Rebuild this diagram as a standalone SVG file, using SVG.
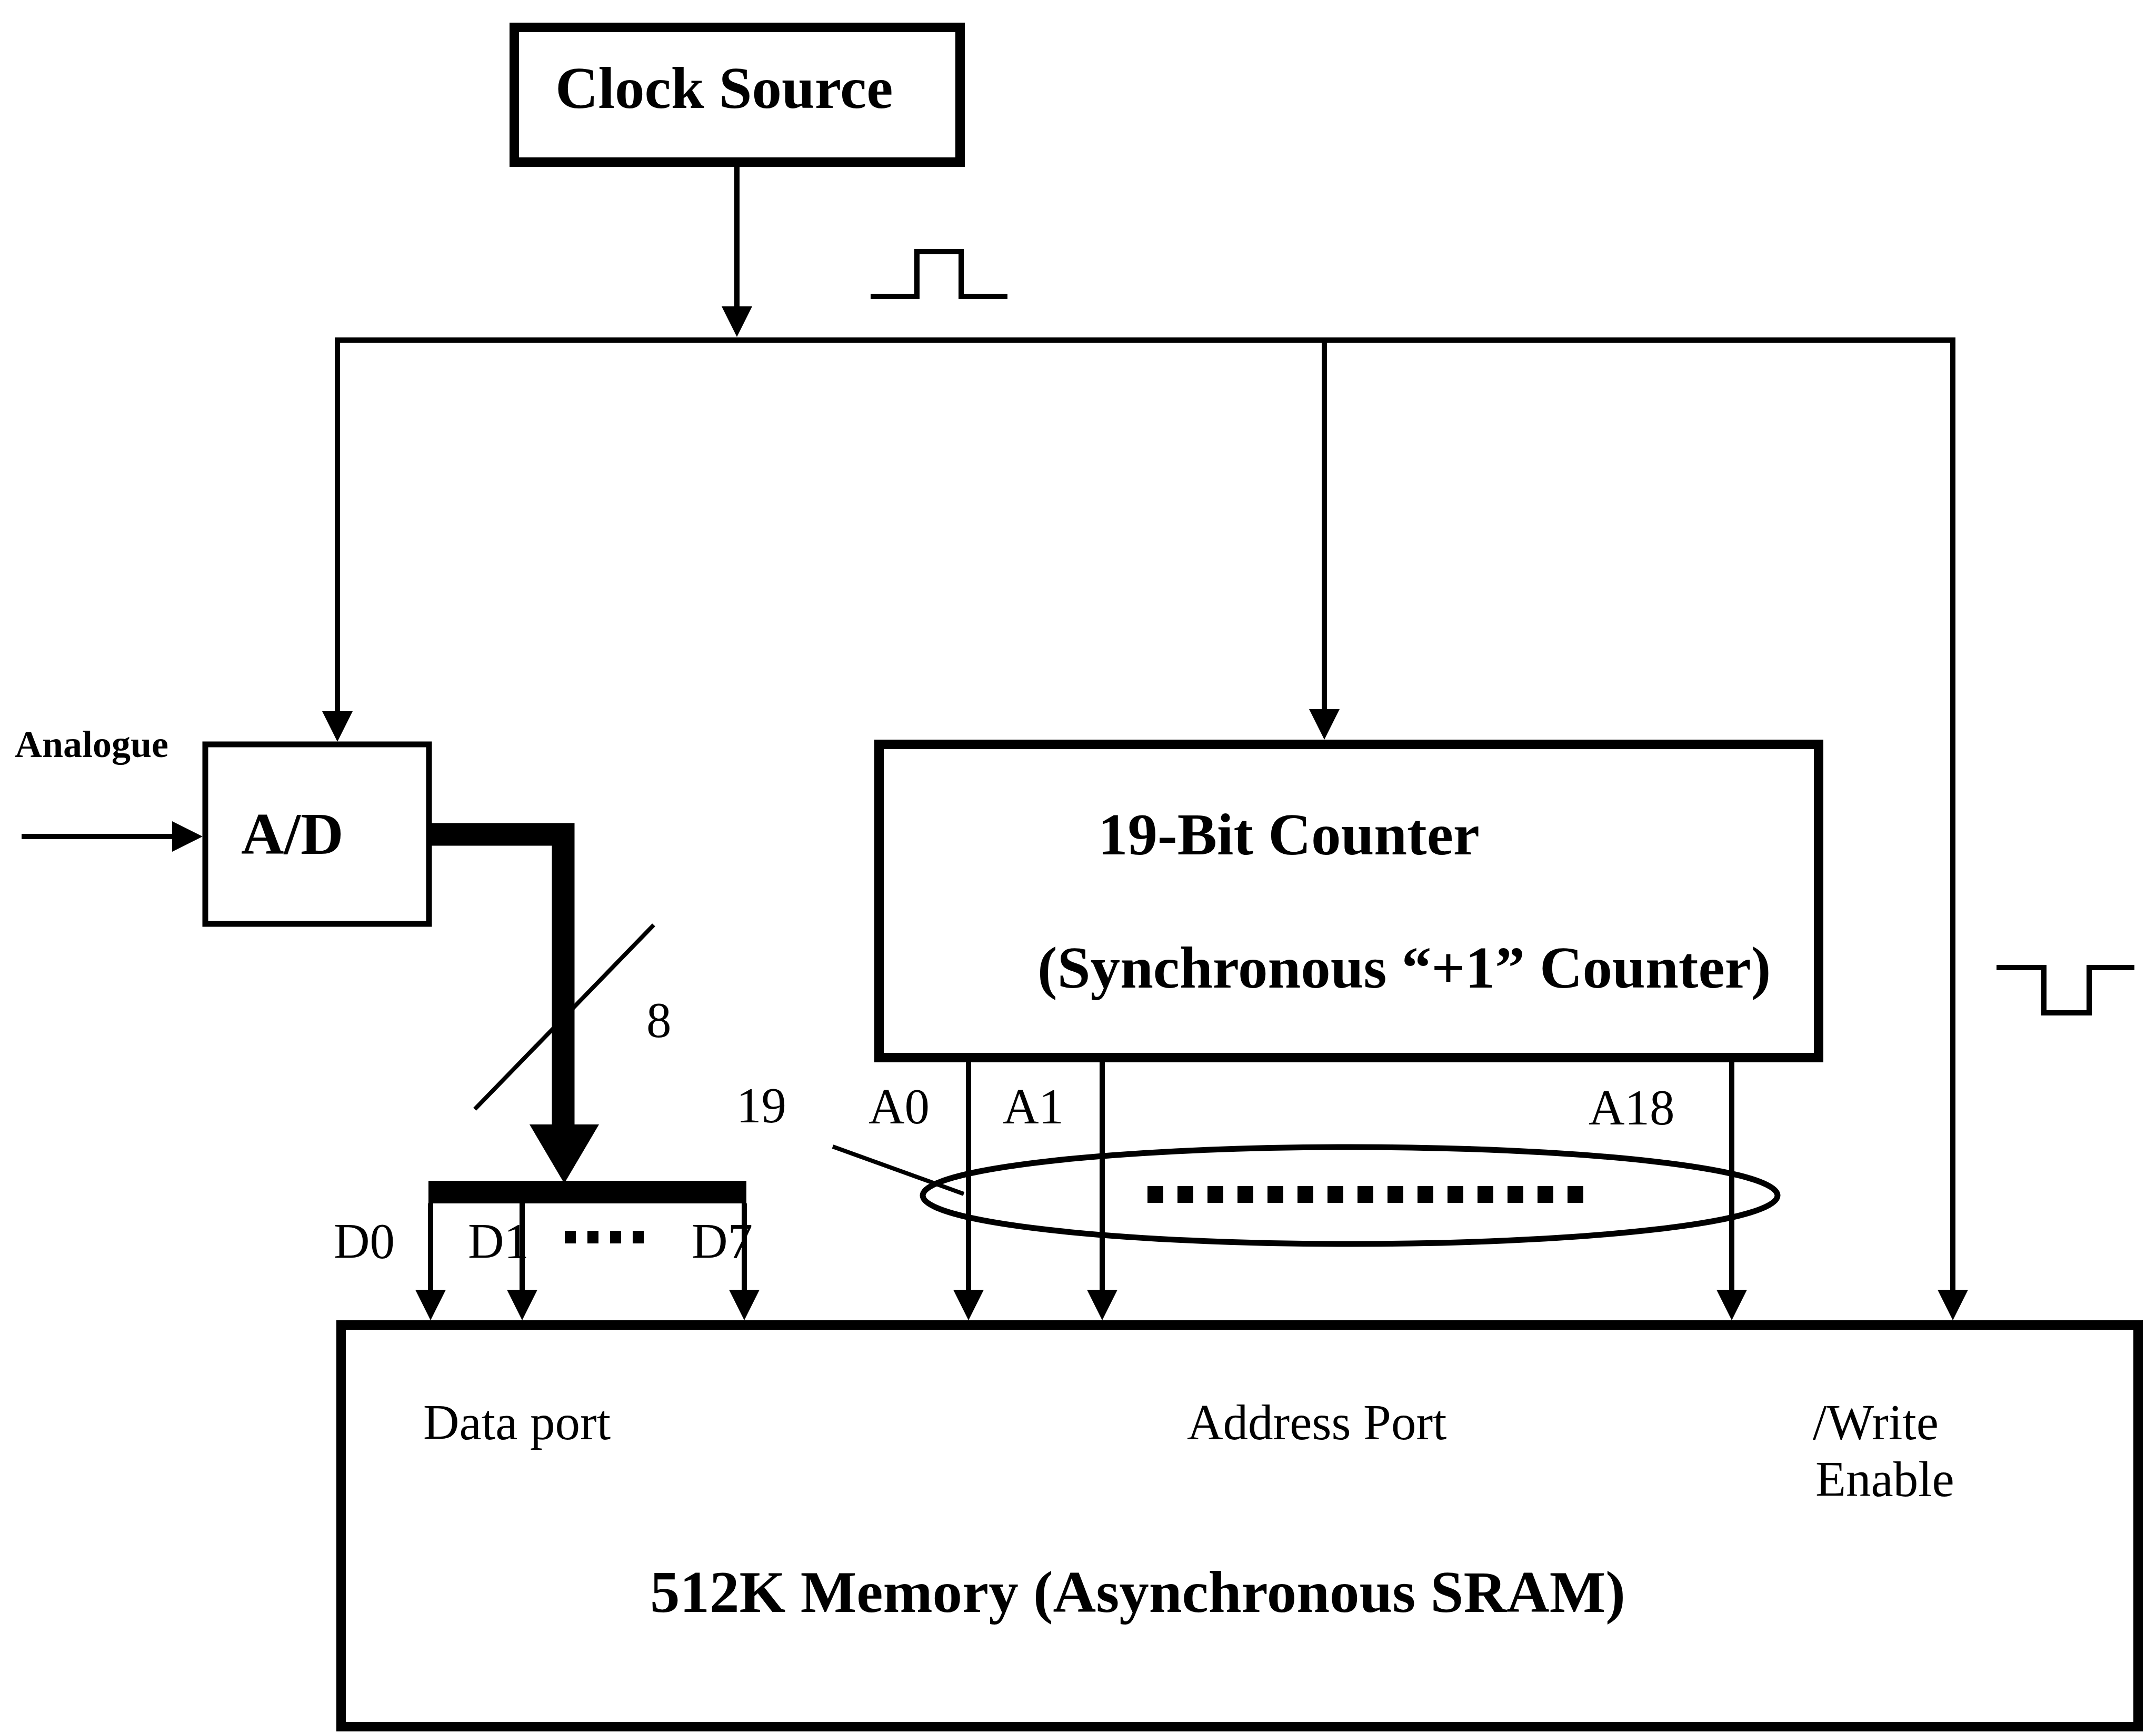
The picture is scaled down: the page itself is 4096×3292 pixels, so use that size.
<svg xmlns="http://www.w3.org/2000/svg" width="4096" height="3292" viewBox="0 0 4096 3292">
<defs>
<style>
.box{fill:#fff;stroke:#000;stroke-width:18}
.box-thin{fill:#fff;stroke:#000;stroke-width:11}
.wire{fill:none;stroke:#000;stroke-width:10}
.thin{fill:none;stroke:#000;stroke-width:8}
.bold{font-family:"Liberation Serif","Times New Roman",serif;font-weight:bold;font-size:113px;fill:#000}
.lbl{font-family:"Liberation Serif","Times New Roman",serif;font-size:95px;fill:#000}
.small{font-family:"Liberation Serif","Times New Roman",serif;font-weight:bold;font-size:72px;fill:#000}
</style>
<marker id="arr" markerUnits="userSpaceOnUse" markerWidth="58" markerHeight="60" viewBox="0 0 58 60" refX="48" refY="30" orient="auto">
<path d="M0,1 L58,30 L0,59 z" fill="#000"/>
</marker>
</defs>
<rect x="0" y="0" width="4096" height="3292" fill="#fff"/>

<g id="clock-source">
<rect class="box" x="977" y="52" width="847" height="256"/>
<text class="bold" x="1055" y="205">Clock Source</text>
</g>

<g id="clock-pulse">
<polyline class="wire" stroke-width="12" points="1654,563 1742,563 1742,478 1826,478 1826,563 1914,563"/>
</g>

<g id="ad-converter">
<rect class="box-thin" x="390" y="1414" width="425" height="341"/>
<text class="bold" x="458" y="1622">A/D</text>
<text class="small" x="28" y="1438">Analogue</text>
</g>

<g id="counter">
<rect class="box" x="1670" y="1414" width="1785" height="595"/>
<text class="bold" x="2086" y="1623">19-Bit Counter</text>
<text class="bold" x="1971" y="1876">(Synchronous “+1” Counter)</text>
</g>

<g id="write-pulse">
<polyline class="wire" stroke-width="12" points="3793,1838 3883,1838 3883,1924 3969,1924 3969,1838 4055,1838"/>
</g>

<g id="memory">
<rect class="box" x="648" y="2517" width="3414" height="763"/>
<text class="lbl" x="804" y="2734">Data port</text>
<text class="lbl" x="2255" y="2734">Address Port</text>
<text class="lbl" x="3444" y="2734">/Write</text>
<text class="lbl" x="3449" y="2842">Enable</text>
<text class="bold" x="1235" y="3062">512K Memory (Asynchronous SRAM)</text>
</g>

<g id="connectors">
<line class="wire" x1="1400" y1="317" x2="1400" y2="630" marker-end="url(#arr)"/>
<line class="wire" stroke-width="12" stroke-linecap="square" x1="641" y1="646" x2="3710" y2="646"/>
<line class="wire" x1="641" y1="646" x2="641" y2="1399" marker-end="url(#arr)"/>
<line class="wire" x1="2516" y1="646" x2="2516" y2="1395" marker-end="url(#arr)"/>
<line class="wire" x1="3710" y1="646" x2="3710" y2="2498" marker-end="url(#arr)"/>
<line class="wire" x1="41" y1="1589" x2="375" y2="1589" marker-end="url(#arr)"/>
<polyline fill="none" stroke="#000" stroke-width="43" stroke-linejoin="miter" points="815,1585 1070,1585 1070,2145"/>
<polygon points="1006,2136 1138,2136 1072,2248" fill="#000"/>
<line class="thin" x1="902" y1="2107" x2="1242" y2="1757"/>
<rect x="814" y="2243" width="604" height="43" fill="#000"/>
<line class="wire" x1="818" y1="2286" x2="818" y2="2498" marker-end="url(#arr)"/>
<line class="wire" x1="992" y1="2286" x2="992" y2="2498" marker-end="url(#arr)"/>
<line class="wire" x1="1414" y1="2286" x2="1414" y2="2498" marker-end="url(#arr)"/>
<line class="wire" x1="1840" y1="2018" x2="1840" y2="2498" marker-end="url(#arr)"/>
<line class="wire" x1="2094" y1="2018" x2="2094" y2="2498" marker-end="url(#arr)"/>
<line class="wire" x1="3290" y1="2018" x2="3290" y2="2498" marker-end="url(#arr)"/>
<line class="thin" x1="1582" y1="2178" x2="1831" y2="2268"/>
</g>

<g id="bus-labels">
<text class="lbl" x="1228" y="1970">8</text>
<text class="lbl" x="634" y="2390">D0</text>
<text class="lbl" x="889" y="2390">D1</text>
<text class="lbl" x="1314" y="2390">D7</text>
<line x1="1073" y1="2350" x2="1224" y2="2350" stroke="#000" stroke-width="24" stroke-dasharray="21 22"/>
<text class="lbl" x="1399" y="2132">19</text>
<text class="lbl" x="1650" y="2134">A0</text>
<text class="lbl" x="1905" y="2134">A1</text>
<text class="lbl" x="3018" y="2136">A18</text>
</g>

<g id="address-group">
<ellipse cx="2565" cy="2271" rx="812" ry="92" fill="none" stroke="#000" stroke-width="11"/>
<line x1="2180" y1="2269" x2="3010" y2="2269" stroke="#000" stroke-width="32" stroke-dasharray="30 27"/>
</g>
</svg>
